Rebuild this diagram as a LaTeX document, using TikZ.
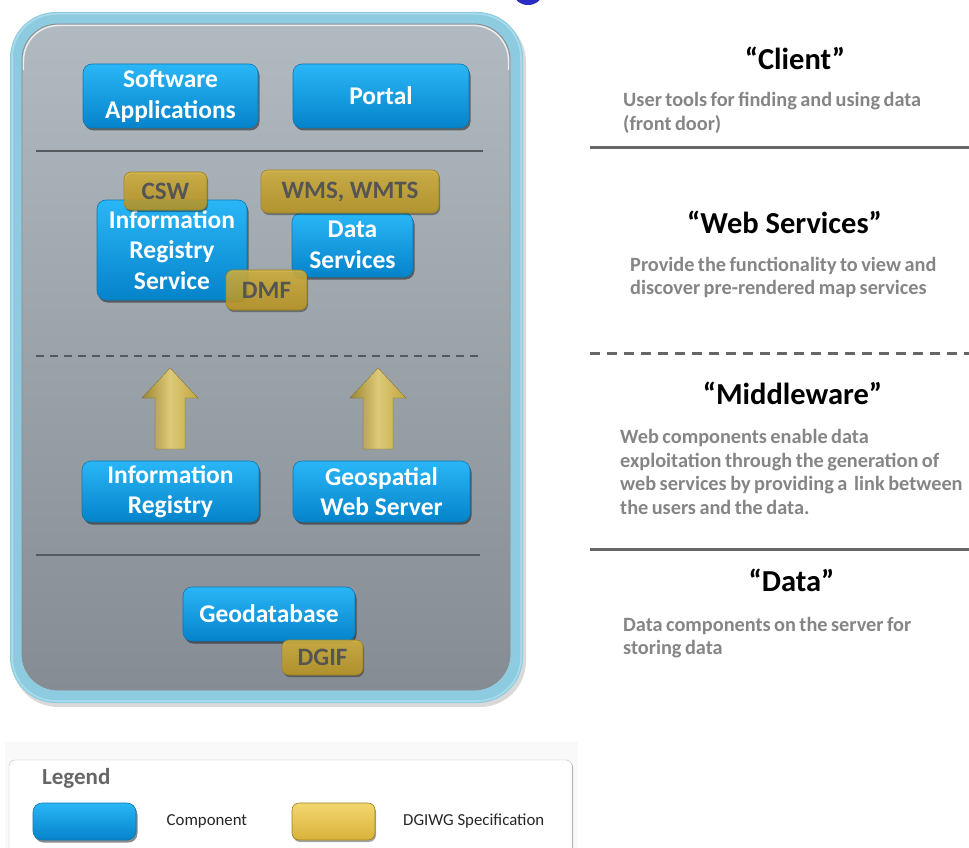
\documentclass[tikz,border=0pt]{standalone}
\usepackage{fontspec}
\setmainfont{Carlito}
\usetikzlibrary{shadows}

\definecolor{frameBlue}{HTML}{8CCBE0}
\definecolor{frameHi}{HTML}{ABDCEC}
\definecolor{panelTop}{HTML}{B1BAC0}
\definecolor{panelBot}{HTML}{858C93}
\definecolor{compTop}{HTML}{2AB6F7}
\definecolor{compBot}{HTML}{0583CA}
\definecolor{compEdge}{HTML}{0A78B5}
\definecolor{specTop}{HTML}{D8B640}
\definecolor{specBot}{HTML}{BE9A24}
\definecolor{specEdge}{HTML}{9C8020}
\definecolor{specText}{HTML}{555555}
\definecolor{legTop}{HTML}{F3D76E}
\definecolor{legBot}{HTML}{D8B23A}
\definecolor{arrowDark}{HTML}{9C8730}
\definecolor{arrowLight}{HTML}{DCC97A}
\definecolor{arrowMid}{HTML}{C4A63E}
\definecolor{sepGray}{HTML}{555A5E}
\definecolor{ruleGray}{HTML}{666666}
\definecolor{descGray}{HTML}{858585}
\definecolor{dotBlue}{HTML}{2B2BC4}

% narrower word spaces for the caption paragraphs
\newcommand{\tightspaces}{\spaceskip=0.17em plus 0.05em\relax}

\tikzset{
  comp/.style={rectangle, rounded corners=9pt, top color=compTop, bottom color=compBot,
    draw=compEdge, line width=0.6pt, text=white, align=center, inner sep=0pt,
    font=\bfseries\fontsize{25.5}{30.5}\selectfont,
    drop shadow={shadow xshift=1.5pt, shadow yshift=-2.5pt, opacity=0.45, fill=black}},
  spec/.style={rectangle, rounded corners=7pt, top color=specTop, bottom color=specBot,
    fill opacity=0.85, text opacity=1, draw=specEdge, line width=0.6pt, text=specText,
    inner sep=0pt, font=\bfseries\fontsize{25}{28}\selectfont,
    drop shadow={shadow xshift=1pt, shadow yshift=-2pt, opacity=0.35, fill=black}},
  layertitle/.style={font=\bfseries\fontsize{30.5}{34}\selectfont, text=black, inner sep=0pt},
  layerdesc/.style={font=\bfseries\fontsize{20.3}{23.5}\selectfont\tightspaces,
    text=descGray, align=left, anchor=west, inner sep=0pt},
  divider/.style={draw=sepGray, line width=2.2pt},
  rule/.style={draw=ruleGray, line width=3pt},
  uparrow/.style={left color=arrowDark, right color=arrowMid, middle color=arrowLight,
    draw=arrowDark!80!black, line width=0.3pt},
  legtext/.style={font=\fontsize{16.8}{18}\selectfont, text=black!85, anchor=west, inner sep=0pt}
}

\begin{document}
\begin{tikzpicture}[x=1pt,y=-1pt]
\useasboundingbox (0,0) rectangle (969,848);

% stray dot at the top edge
\fill[dotBlue] (528,-6) ellipse (14pt and 11pt);

% faint backdrop behind the legend
\fill[black!2.5] (5,742) rectangle (578,848);

% outer frame and grey panel
\fill[black!15, rounded corners=46pt] (12,16) rectangle (526,707);
\fill[frameBlue, rounded corners=46pt] (10,12) rectangle (523,703);
\draw[frameHi, line width=1.5pt, rounded corners=44pt] (12,14) rectangle (521,701);
\shade[rounded corners=36pt, top color=panelTop, bottom color=panelBot,
  draw=black!45, line width=0.8pt] (22,24) rectangle (510,690);
\draw[white!75!panelTop, line width=1.4pt, rounded corners=35pt] (23.5,70) -- (23.5,25.5) -- (508.5,25.5) -- (508.5,70);

% layer dividers inside the panel
\draw[divider] (36,151) -- (483,151);
\draw[divider, dash pattern=on 8pt off 6pt] (36,356) -- (483,356);
\draw[divider] (36,555) -- (480,555);

% client layer
\node[comp, minimum width=175pt, minimum height=64pt] (sw) at (170.5,96) {Software\\Applications};
\node[comp, minimum width=176pt, minimum height=64pt] (portal) at (381,96) {Portal};

% web services layer
\node[comp, minimum width=150pt, minimum height=100pt] (irs) at (172,250) {Information\\Registry\\Service};
\node[comp, minimum width=121pt, minimum height=64pt] (ds) at (352.5,245) {Data\\Services};
\node[spec, minimum width=83pt, minimum height=38pt] (csw) at (165.5,191) {CSW};
\node[spec, minimum width=178pt, minimum height=43pt] (wms) at (350,191.5) {WMS, WMTS};
\node[spec, minimum width=81pt, minimum height=40pt] (dmf) at (266.5,290) {DMF};

% middleware layer
\shade[uparrow] (155,449) -- (155,398) -- (142,398) -- (170,368) -- (198,398) -- (185,398) -- (185,449) -- cycle;
\shade[uparrow] (363,449) -- (363,398) -- (350,398) -- (378,368) -- (406,398) -- (393,398) -- (393,449) -- cycle;
\node[comp, minimum width=177pt, minimum height=61pt] (ireg) at (170.5,491.5) {Information\\Registry};
\node[comp, minimum width=177pt, minimum height=61pt] (gws) at (381.5,491.5) {Geospatial\\Web Server};

% data layer
\node[comp, minimum width=172pt, minimum height=54pt] (geo) at (269,614) {Geodatabase};
\node[spec, minimum width=81pt, minimum height=35pt] (dgif) at (322.5,657.5) {DGIF};

% layer captions on the right
\node[layertitle] (tclient) at (795,58) {“Client”};
\node[layerdesc] (dclient) at (623,113) {User tools for finding and using data\\(front door)};
\draw[rule] (590,148) -- (969,148);

\node[layertitle] (tweb) at (784.5,222) {“Web Services”};
\node[layerdesc] (dweb) at (630,277.5) {Provide the functionality to view and\\discover pre-rendered map services};
\draw[rule, dash pattern=on 10pt off 7pt] (590,353) -- (969,353);

\node[layertitle] (tmid) at (792.5,393) {“Middleware”};
\node[layerdesc] (dmid) at (620,472) {Web components enable data\\exploitation through the generation of\\web services by providing a \ link between\\the users and the data.};
\draw[rule] (590,549) -- (969,549);

\node[layertitle] (tdata) at (791.5,580) {“Data”};
\node[layerdesc] (ddata) at (623,637.5) {Data components on the server for\\storing data};

% legend
\draw[black!25, fill=white, rounded corners=6pt,
  drop shadow={shadow xshift=1pt, shadow yshift=-1.5pt, opacity=0.3, fill=black}]
  (9,760) rectangle (572,870);
\node[font=\bfseries\fontsize{23}{26}\selectfont, text=black!60, anchor=west, inner sep=0pt] (legtitle) at (42,778) {Legend};
\node[comp, minimum width=103pt, minimum height=37pt] (legcomp) at (84.5,821.5) {};
\node[legtext] (lcomp) at (166.5,821) {Component};
\node[spec, top color=legTop, bottom color=legBot, fill opacity=1, minimum width=83pt, minimum height=37pt] (legspec) at (333.5,821.5) {};
\node[legtext] (lspec) at (403,821) {DGIWG Specification};
\end{tikzpicture}
\end{document}
